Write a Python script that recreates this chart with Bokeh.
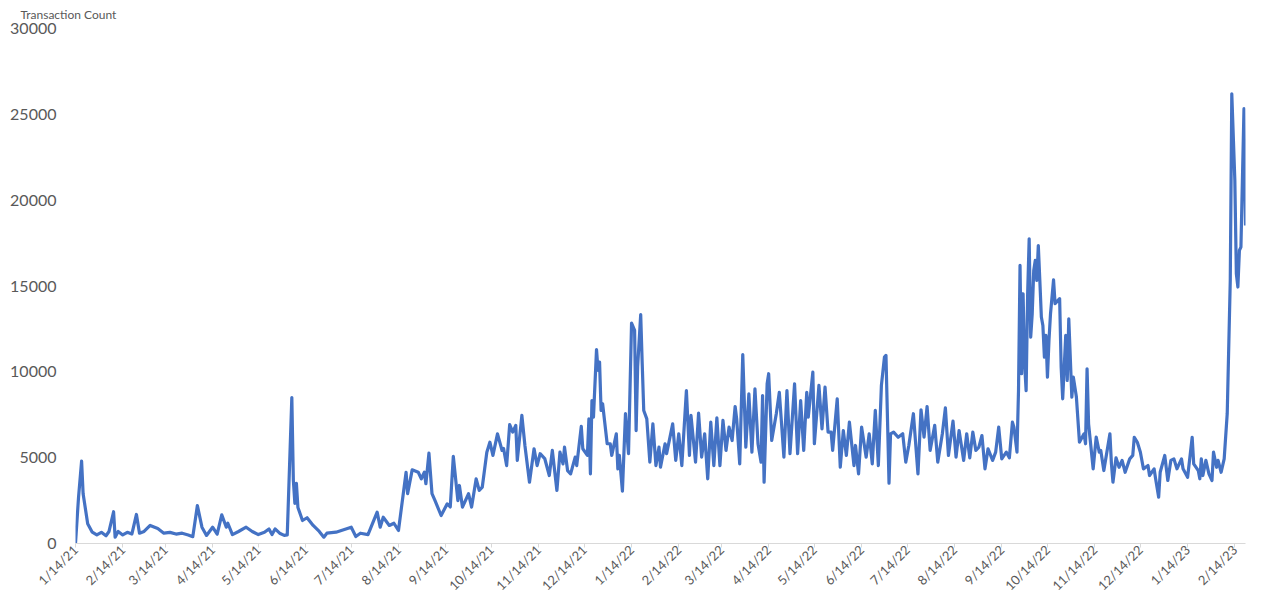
import pandas as pd
from math import pi
from bokeh.plotting import figure
from bokeh.models import Range1d, FixedTicker, NumeralTickFormatter
from bokeh.embed import file_html
from bokeh.resources import INLINE

START = "2021-01-14"

# days since START
day = [0, 2, 4, 5, 8, 11, 14, 17, 20, 22, 25, 26, 28, 31, 34, 37, 40, 42, 45, 49,
       54, 58, 62, 66, 70, 74, 77, 80, 83, 86, 90, 93, 96, 99, 100, 103, 107, 112, 116, 120,
       124, 127, 129, 131, 134, 137, 139, 142, 143, 144, 145, 146, 149, 152, 156, 160, 163, 165, 171, 176,
       181, 184, 187, 192, 198, 200, 202, 206, 209, 212, 217, 218, 221, 225, 227, 229, 230, 232, 234, 236,
       240, 244, 246, 248, 251, 252, 254, 258, 260, 263, 265, 267, 270, 272, 274, 277, 280, 281, 283, 285,
       287, 289, 290, 293, 295, 298, 301, 303, 305, 308, 311, 313, 316, 318, 320, 321, 323, 325, 328, 329,
       332, 333, 336, 337, 338, 339, 340, 342, 343, 344, 345, 346, 349, 351, 352, 355, 356, 357, 359, 361,
       363, 365, 367, 368, 369, 371, 372, 373, 375, 377, 379, 381, 383, 384, 387, 388, 392, 394, 396, 398,
       401, 403, 404, 407, 409, 411, 413, 415, 417, 419, 421, 423, 425, 427, 429, 431, 433, 434, 436, 438,
       440, 442, 444, 446, 448, 450, 451, 452, 454, 455, 457, 460, 462, 465, 467, 469, 472, 474, 476, 478,
       480, 481, 484, 485, 488, 490, 492, 494, 496, 497, 500, 502, 504, 506, 508, 511, 512, 514, 516, 519,
       521, 523, 525, 527, 529, 531, 532, 534, 535, 537, 540, 543, 545, 547, 550, 553, 555, 557, 559, 561,
       564, 566, 569, 571, 573, 576, 578, 580, 581, 583, 585, 587, 589, 591, 593, 595, 597, 599, 602, 604,
       606, 608, 611, 613, 615, 616, 618, 619, 620, 621, 622, 623, 624, 625, 626, 627, 628, 629, 630, 631,
       632, 633, 634, 635, 636, 637, 638, 639, 640, 642, 643, 646, 647, 648, 650, 651, 652, 654, 655, 657,
       659, 662, 663, 664, 665, 667, 668, 670, 672, 673, 675, 679, 680, 681, 683, 685, 687, 689, 692, 694,
       695, 697, 699, 701, 704, 705, 708, 709, 711, 712, 715, 717, 719, 721, 723, 726, 727, 730, 733, 734,
       737, 738, 739, 740, 742, 744, 746, 747, 749, 750, 752, 754, 756, 758, 759, 761, 762, 763, 764, 765,
       767, 768]

count = [0, 2700, 4800, 2900, 1150, 660, 500, 650, 450, 700, 1850, 370, 700, 500, 650, 550, 1690, 600, 700, 1050,
         870, 600, 650, 550, 600, 500, 400, 2210, 950, 470, 950, 540, 1670, 950, 1180, 520, 700, 950, 700, 520,
         650, 850, 520, 850, 600, 470, 500, 8500, 3670, 2330, 3500, 2100, 1340, 1500, 1050, 700, 370, 600, 660, 800,
         950, 410, 600, 520, 1825, 950, 1530, 1050, 1180, 760, 4150, 2900, 4290, 4150, 3770, 4150, 3480, 5260, 2900, 2500,
         1630, 2310, 2130, 5070, 2500, 3380, 2120, 2900, 2120, 3770, 3090, 3280, 5320, 5900, 5130, 6390, 5420, 5530, 4540, 6930,
         6490, 6880, 4840, 7460, 5710, 3570, 5520, 4540, 5230, 4950, 3960, 5420, 3090, 5320, 4640, 5610, 4250, 4060, 5030, 4540,
         6820, 5520, 5130, 7260, 4060, 8330, 7360, 11290, 10080, 10570, 7750, 8140, 5810, 5810, 5130, 6390, 4350, 5130, 3050, 7560,
         5230, 12840, 12410, 6580, 10310, 13340, 10470, 7750, 7260, 4740, 6970, 4540, 5610, 4450, 5810, 5230, 6970, 4840, 6390, 4540,
         8910, 5130, 7460, 4740, 7590, 5030, 6390, 3770, 7070, 4540, 7320, 4540, 7170, 5420, 6780, 6000, 7980, 7260, 4640, 11010,
         5610, 8720, 5320, 9010, 5810, 4740, 8620, 3570, 9300, 9890, 6000, 7560, 8810, 5030, 8910, 5230, 9300, 5230, 8330, 5420,
         8810, 7360, 9980, 5810, 9210, 6680, 9110, 6490, 6490, 5420, 8430, 4450, 6580, 5130, 7070, 4540, 5710, 4060, 6780, 5030,
         6390, 4640, 7750, 4540, 9210, 10860, 10960, 3510, 6390, 6490, 6190, 6390, 4740, 5710, 7560, 4060, 7790, 6200, 7980, 5420,
         6880, 4740, 6390, 7900, 5130, 7130, 5030, 6580, 6000, 4840, 6390, 4990, 6490, 5420, 5610, 6290, 4350, 5520, 4840, 5320,
         6780, 4930, 5320, 4990, 7070, 6780, 5320, 8910, 16200, 9890, 14550, 10470, 8910, 14550, 17750, 12020, 13380, 15910, 16490, 15320,
         17360, 15320, 13190, 12700, 10860, 12120, 9690, 11830, 13380, 15360, 13970, 14260, 10270, 8430, 12120, 9500, 13090, 8530, 9690, 8530,
         5900, 6390, 5810, 10180, 6970, 5230, 4350, 6200, 5320, 5420, 4250, 6390, 4640, 3570, 4990, 4440, 4840, 4150, 4930, 5130,
         6190, 5900, 5320, 4350, 4540, 3960, 4350, 3770, 2700, 4150, 5130, 3670, 4840, 4930, 4350, 4930, 4350, 3860, 6190, 4640,
         4250, 3770, 4930, 3960, 4840, 4060, 3670, 5320, 4440, 4840, 4150, 4930, 7560, 15320, 26200, 21150, 15710, 14940, 17070, 17270,
         25330, 18530]

tick_labels = ["1/14/21", "2/14/21", "3/14/21", "4/14/21", "5/14/21", "6/14/21", "7/14/21",
               "8/14/21", "9/14/21", "10/14/21", "11/14/21", "12/14/21", "1/14/22", "2/14/22",
               "3/14/22", "4/14/22", "5/14/22", "6/14/22", "7/14/22", "8/14/22", "9/14/22",
               "10/14/22", "11/14/22", "12/14/22", "1/14/23", "2/14/23"]

y_ticks = [0, 5000, 10000, 15000, 20000, 25000, 30000]

start = pd.Timestamp(START)
tick_days = [int((pd.to_datetime(t, format="%m/%d/%y") - start).days) for t in tick_labels]

TEXT = "#595959"
AXIS = "#d9d9d9"

p = figure(width=1280, height=602, output_backend="svg", toolbar_location=None,
           x_range=Range1d(day[0], day[-1]), y_range=Range1d(y_ticks[0], y_ticks[-1]),
           min_border_left=75, min_border_right=35, min_border_top=28, min_border_bottom=0,
           title="Transaction Count")
p.title.text_font = "Lato"
p.title.text_font_size = "12px"
p.title.text_font_style = "normal"
p.title.text_color = TEXT
p.title.offset = -55
p.title.standoff = 10
p.title.vertical_align = "top"

p.outline_line_color = None
p.xgrid.grid_line_color = None
p.ygrid.grid_line_color = None
p.background_fill_color = "white"
p.border_fill_color = "white"

p.line(day, count, line_color="#4472C4", line_width=3.2, line_join="round")

xa = p.xaxis[0]
xa.ticker = FixedTicker(ticks=tick_days, minor_ticks=[])
xa.major_label_overrides = {d: t for d, t in zip(tick_days, tick_labels)}
xa.major_label_orientation = pi / 4
xa.major_label_text_font = "Lato"
xa.major_label_text_font_size = "13px"
xa.major_label_text_color = TEXT
xa.axis_line_color = AXIS
xa.axis_line_width = 1
xa.major_tick_line_color = AXIS
xa.major_tick_in = 0
xa.major_tick_out = 4
xa.minor_tick_line_color = None
xa.major_label_standoff = 0

ya = p.yaxis[0]
ya.ticker = FixedTicker(ticks=y_ticks, minor_ticks=[])
ya.formatter = NumeralTickFormatter(format="0")
ya.major_label_text_font = "Lato"
ya.major_label_text_font_size = "16px"
ya.major_label_text_color = TEXT
ya.axis_line_color = None
ya.major_tick_line_color = None
ya.minor_tick_line_color = None
ya.major_tick_out = 0
ya.major_tick_in = 0
ya.major_label_standoff = 19

open("out.html", "w").write(file_html(p, INLINE))
